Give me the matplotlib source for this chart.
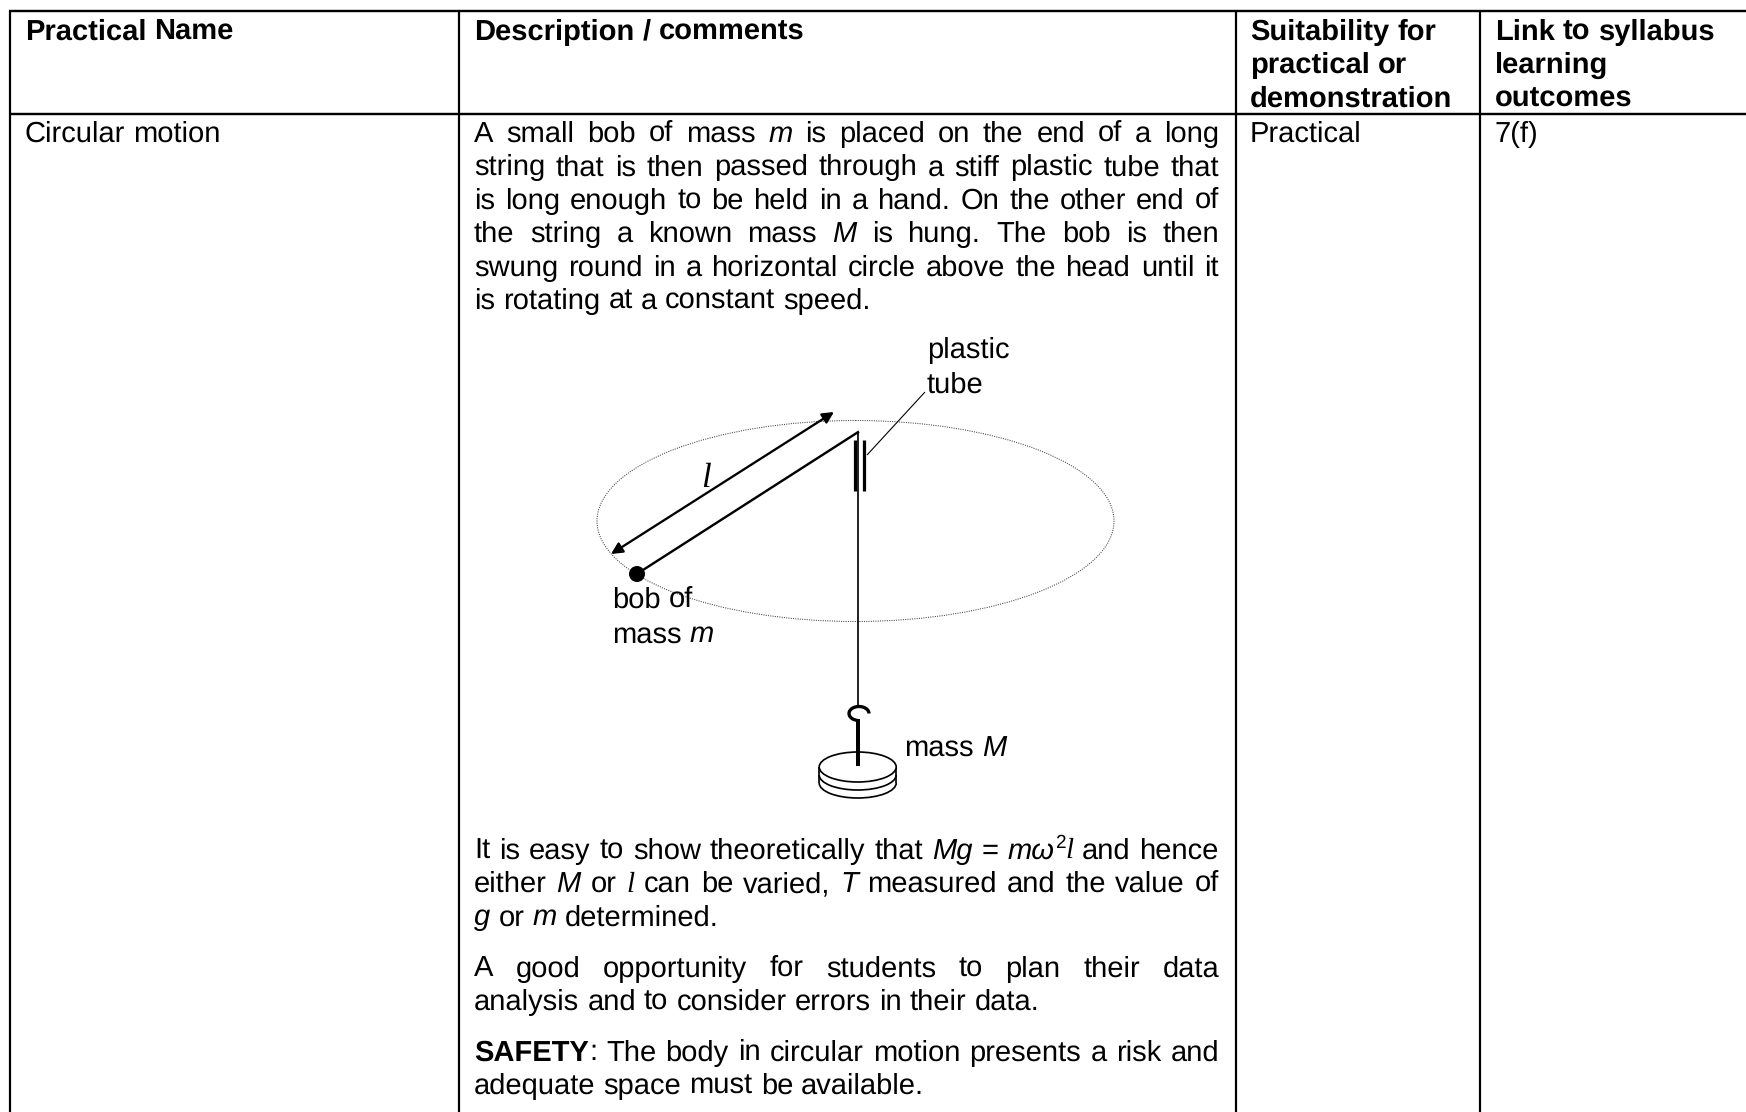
import re
import matplotlib
matplotlib.use("Agg")
import matplotlib.pyplot as plt
from matplotlib.patches import Ellipse, Arc, Circle
from matplotlib.font_manager import FontProperties

plt.rcParams["text.hinting"] = "none"

# ---------- table content ----------
headers_col1 = ["Practical Name"]
headers_col2 = ["Description / comments"]
headers_col3 = ["Suitability for", "practical or", "demonstration"]
headers_col4 = ["Link to syllabus", "learning", "outcomes"]
row_name = "Circular motion"
row_kind = "Practical"
row_link = "7(f)"

para1 = [
    "A small bob of mass {i:m} is placed on the end of a long",
    "string that is then passed through a stiff plastic tube that",
    "is long enough to be held in a hand. On the other end of",
    "the string a known mass {i:M} is hung. The bob is then",
    "swung round in a horizontal circle above the head until it",
    "is rotating at a constant speed.",
]
para2 = [
    "It is easy to show theoretically that {i:Mg} = {i:mω}{u:2}{s:l} and hence",
    "either {i:M} or {s:l} can be varied, {i:T} measured and the value of",
    "{i:g} or {i:m} determined.",
]
para3 = [
    "A good opportunity for students to plan their data",
    "analysis and to consider errors in their data.",
]
para4 = [
    "{b:SAFETY}: The body in circular motion presents a risk and",
    "adequate space must be available.",
]
diagram_labels = {"tube": ["plastic", "tube"], "bob": ["bob of", "mass {i:m}"], "mass": ["mass {i:M}"]}

# ---------- layout (pixels of the 1746x1112 page) ----------
W, H = 1746, 1112
FS = 21
SANS = "Liberation Sans"
SERIF = "Liberation Serif"
col_edges = [10, 459, 1236, 1480]
row_edges = [11, 114]
LS = 33.4

fig = plt.figure(figsize=(W / 100, H / 100), dpi=100, facecolor="white")
ax = fig.add_axes([0, 0, 1, 1])
ax.set_xlim(0, W)
ax.set_ylim(H, 0)
ax.axis("off")
px = 0.72


def seg(x, y, lw=2.0, color="black", z=3):
    ax.plot(x, y, color=color, lw=lw * px, solid_capstyle="butt", zorder=z)


for y in row_edges:
    seg([col_edges[0] - 1, W], [y, y], 2.4)
for x in col_edges:
    seg([x, x], [row_edges[0], H], 2.2)

STY = {
    "r": dict(family=SANS),
    "i": dict(family=SANS, style="italic"),
    "b": dict(family=SANS, weight="bold"),
    "s": dict(family=SERIF, style="italic"),
    "u": dict(family=SANS, size=FS * 0.65),
}
fig.canvas.draw()
renderer = fig.canvas.get_renderer()


def width(s, st):
    kw = dict(STY[st])
    size = kw.pop("size", FS)
    fp = FontProperties(size=size, **kw)
    w, _, _ = renderer.get_text_width_height_descent(s, fp, False)
    return w


def split_runs(word, base="r"):
    runs = []
    pos = 0
    for m in re.finditer(r"\{(\w):([^}]*)\}", word):
        if m.start() > pos:
            runs.append((word[pos:m.start()], base))
        runs.append((m.group(2), m.group(1)))
        pos = m.end()
    if pos < len(word):
        runs.append((word[pos:], base))
    return runs


def put_line(line, x0, y, right=None, base="r"):
    words = [split_runs(w, base) for w in line.split(" ")]
    widths = [sum(width(t, s) for t, s in w) for w in words]
    space = width("a b", "r") - width("ab", "r")
    if right is not None and len(words) > 1:
        space = (right - x0 - sum(widths)) / (len(words) - 1)
    x = x0
    for w, wd in zip(words, widths):
        cx = x
        for t, s in w:
            kw = dict(STY[s])
            size = kw.pop("size", FS)
            dy = -11 if s == "u" else 0
            ax.text(cx, y + dy, t, fontsize=size, va="baseline", ha="left", color="black", **kw)
            cx += width(t, s) + (1 if s in ("i", "s") else 0)
        x += wd + space


def put_para(lines, x0, y0, right=None):
    for i, line in enumerate(lines):
        r = right if (right and i < len(lines) - 1) else None
        put_line(line, x0, y0 + i * LS, r)


# headers
for lines, x0 in [(headers_col1, 25), (headers_col2, 474), (headers_col3, 1250), (headers_col4, 1495)]:
    for i, line in enumerate(lines):
        put_line(line, x0, 39.5 + i * LS, base="b")

# row 1
put_line(row_name, 25, 142)
put_line(row_kind, 1250, 142)
put_line(row_link, 1495, 142)

L, R = 474, 1219
put_para(para1, L, 142, R)
put_para(para2, L, 858.5, R)
put_para(para3, L, 976.5, R)
put_para(para4, L, 1060.5, R)

# ---------- diagram ----------
ax.add_patch(Ellipse((855.5, 521), 517, 201, fill=False, ec="#444444", lw=0.75, ls=(0, (1, 1.2)), zorder=2))
seg([643, 859], [570, 431.5], 2.4)
seg([857.5, 857.5], [431.5, 708], 1.7)
seg([855, 855], [440, 491], 3.2)
seg([864, 864], [440, 491], 3.2)
seg([867, 925], [455, 392], 1.1)
ax.add_patch(Circle((637, 574), 8, fc="black", ec="black", lw=0, zorder=4))
ax.annotate("", xy=(834, 412), xytext=(611, 554),
            arrowprops=dict(arrowstyle="<|-|>", color="black", lw=2.3 * px, mutation_scale=17,
                            shrinkA=0, shrinkB=0), zorder=4)
ax.text(706, 487, "l", fontsize=FS * 1.2, family=SERIF, style="italic", ha="center", va="baseline")

for i, line in enumerate(diagram_labels["tube"]):
    put_line(line, 927, 358 + i * (LS + 1))
for i, line in enumerate(diagram_labels["bob"]):
    put_line(line, 612, 608 + i * (LS + 1))
put_line(diagram_labels["mass"][0], 904, 756)

# hook and weights
ax.add_patch(Arc((859, 713.5), 20, 14, theta1=105, theta2=360, color="black", lw=3.3 * px, zorder=4))
seg([858, 858], [719, 766], 4.0, z=5)
for cy in (783, 775):
    ax.add_patch(Arc((857.7, cy), 77, 30, theta1=0, theta2=180, color="black", lw=1.7 * px, zorder=3))
seg([819.2, 819.2], [767, 783], 1.7)
seg([896.2, 896.2], [767, 783], 1.7)
ax.add_patch(Ellipse((857.7, 767), 77, 30, fc="white", ec="black", lw=1.7 * px, zorder=4))

fig.savefig("out.png", dpi=100, facecolor="white")
